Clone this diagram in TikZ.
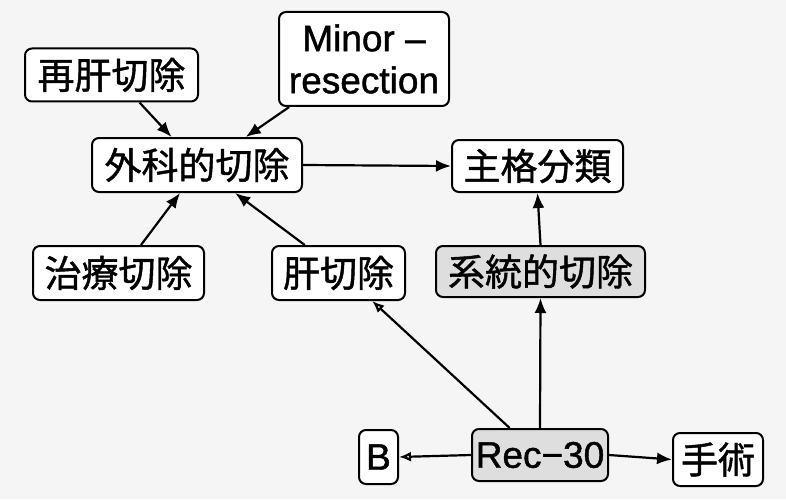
\documentclass[tikz,border=0pt]{standalone}
\usepackage{fontspec}
\newfontfamily\cjk[FakeBold=1.2]{Noto Sans CJK JP}
\newfontfamily\lat[FakeBold=1.2]{Liberation Sans}
\usetikzlibrary{arrows.meta,calc}
\begin{document}
\begin{tikzpicture}[x=1pt,y=1pt,
  box/.style={draw,line width=2pt,rounded corners=7pt,inner sep=0pt,fill=white},
  jp/.style={box,font=\cjk\fontsize{37}{40}\selectfont},
  la/.style={box,font=\lat\fontsize{37}{42}\selectfont,align=center},
  shaded/.style={fill=black!13},
  arr/.style={line width=2.2pt,-{Latex[length=15pt,width=12pt]}},
  oarr/.style={line width=2.2pt,-{Latex[open,length=12pt,width=10pt]}}]
\useasboundingbox (0,0) rectangle (786,499);
\fill[black!4] (0,0) rectangle (786,499);
\node[jp,minimum width=173,minimum height=53] (saikan) at (111.5,424) {再肝切除};
\node[la,minimum width=170,minimum height=94] (minor) at (364,440) {Minor –\\resection};
\node[jp,minimum width=210,minimum height=54] (geka) at (197,334) {外科的切除};
\node[jp,minimum width=171,minimum height=52] (shukaku) at (537.5,333) {主格分類};
\node[jp,minimum width=171,minimum height=54] (chiryo) at (118.5,226) {治療切除};
\node[jp,minimum width=133,minimum height=54] (kan) at (338.5,226) {肝切除};
\node[jp,shaded,minimum width=209,minimum height=51] (keito) at (540.5,227.5) {系統的切除};
\node[la,minimum width=39,minimum height=54] (b) at (378.5,42) {B};
\node[la,shaded,minimum width=136,minimum height=52] (rec) at (540,44) {Rec−30};
\node[jp,minimum width=90,minimum height=53] (shujutsu) at (718,39.5) {手術};
\draw[arr] ($(saikan.south west)!0.66!(saikan.south east)$) -- ($(geka.north west)!0.38!(geka.north east)$);
\draw[arr] ($(minor.south west)!0.065!(minor.south east)$) -- ($(geka.north west)!0.73!(geka.north east)$);
\draw[arr] (geka.east) -- (shukaku.west);
\draw[arr] ($(chiryo.north west)!0.63!(chiryo.north east)$) -- ($(geka.south west)!0.42!(geka.south east)$);
\draw[arr] ($(kan.north west)!0.25!(kan.north east)$) -- ($(geka.south west)!0.68!(geka.south east)$);
\draw[arr] (keito.north) -- (shukaku.south);
\draw[oarr] ($(rec.north west)!0.28!(rec.north east)$) -- ($(kan.south west)!0.75!(kan.south east)$);
\draw[arr] (rec.north) -- (keito.south);
\draw[oarr] (rec.west) -- (b.east);
\draw[arr] (rec.east) -- (shujutsu.west);
\end{tikzpicture}
\end{document}
